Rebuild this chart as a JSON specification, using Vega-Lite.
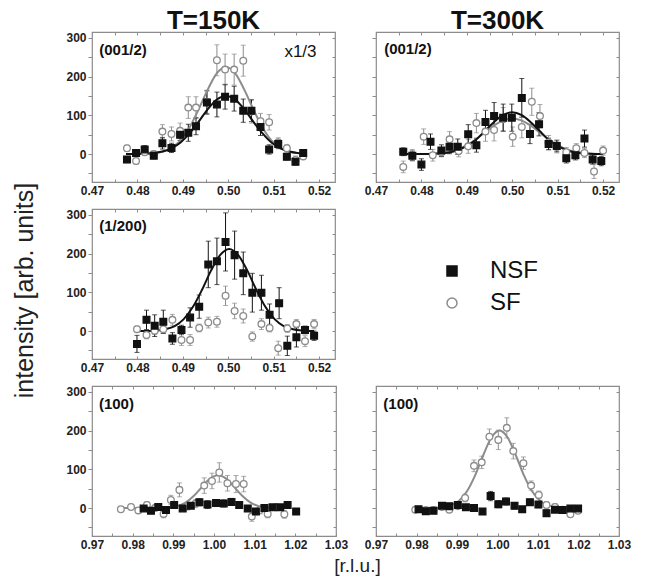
{
"$schema": "https://vega.github.io/schema/vega-lite/v6.json",
"padding": {"left": 12, "top": 6, "right": 5, "bottom": 3},
"background": "white",
"config": {
  "view": {"stroke": "#8c8c8c", "strokeWidth": 1.2},
  "axis": {"labelFont": "Liberation Sans", "labelFontWeight": "bold", "labelFontSize": 12, "labelColor": "#222", "tickColor": "#8c8c8c", "tickWidth": 1, "grid": false, "domain": false, "labelFlush": false, "labelOverlap": false, "titleFont": "Liberation Sans", "titleFontWeight": "normal", "titleColor": "#222"},
  "title": {"font": "Liberation Sans", "fontWeight": "bold", "fontSize": 26, "color": "#111", "anchor": "middle", "offset": -2}
},
"datasets": {
"pts": [
{"p":"TL","s":"SF","x":0.4777,"y":15,"e":8},{"p":"TL","s":"SF","x":0.4797,"y":-18,"e":8},{"p":"TL","s":"SF","x":0.4816,"y":5,"e":8},{"p":"TL","s":"SF","x":0.4836,"y":0,"e":8},{"p":"TL","s":"SF","x":0.4855,"y":58,"e":18},{"p":"TL","s":"SF","x":0.4875,"y":52,"e":18},{"p":"TL","s":"SF","x":0.4894,"y":60,"e":20},{"p":"TL","s":"SF","x":0.4912,"y":120,"e":28},{"p":"TL","s":"SF","x":0.4929,"y":120,"e":28},{"p":"TL","s":"SF","x":0.4953,"y":135,"e":30},{"p":"TL","s":"SF","x":0.4975,"y":242,"e":40},{"p":"TL","s":"SF","x":0.4993,"y":218,"e":40},{"p":"TL","s":"SF","x":0.5013,"y":218,"e":40},{"p":"TL","s":"SF","x":0.5033,"y":241,"e":40},{"p":"TL","s":"SF","x":0.5051,"y":110,"e":30},{"p":"TL","s":"SF","x":0.5071,"y":85,"e":20},{"p":"TL","s":"SF","x":0.509,"y":82,"e":20},{"p":"TL","s":"SF","x":0.511,"y":30,"e":12},{"p":"TL","s":"SF","x":0.5129,"y":15,"e":10},{"p":"TL","s":"SF","x":0.5148,"y":-15,"e":10},{"p":"TL","s":"SF","x":0.5165,"y":-6,"e":8},
{"p":"TL","s":"NSF","x":0.4777,"y":-14,"e":8},{"p":"TL","s":"NSF","x":0.4797,"y":3,"e":8},{"p":"TL","s":"NSF","x":0.4816,"y":12,"e":10},{"p":"TL","s":"NSF","x":0.4836,"y":-4,"e":8},{"p":"TL","s":"NSF","x":0.4855,"y":28,"e":15},{"p":"TL","s":"NSF","x":0.4875,"y":16,"e":12},{"p":"TL","s":"NSF","x":0.4894,"y":50,"e":15},{"p":"TL","s":"NSF","x":0.4912,"y":55,"e":22},{"p":"TL","s":"NSF","x":0.4929,"y":72,"e":22},{"p":"TL","s":"NSF","x":0.4953,"y":133,"e":30},{"p":"TL","s":"NSF","x":0.4975,"y":128,"e":32},{"p":"TL","s":"NSF","x":0.4993,"y":148,"e":32},{"p":"TL","s":"NSF","x":0.5013,"y":143,"e":32},{"p":"TL","s":"NSF","x":0.5033,"y":112,"e":30},{"p":"TL","s":"NSF","x":0.5051,"y":112,"e":28},{"p":"TL","s":"NSF","x":0.5071,"y":70,"e":22},{"p":"TL","s":"NSF","x":0.509,"y":12,"e":12},{"p":"TL","s":"NSF","x":0.511,"y":26,"e":12},{"p":"TL","s":"NSF","x":0.5129,"y":-7,"e":8},{"p":"TL","s":"NSF","x":0.5148,"y":-20,"e":8},{"p":"TL","s":"NSF","x":0.5165,"y":3,"e":8},
{"p":"TR","s":"SF","x":0.476,"y":-33,"e":15},{"p":"TR","s":"SF","x":0.478,"y":-3,"e":15},{"p":"TR","s":"SF","x":0.4805,"y":45,"e":20},{"p":"TR","s":"SF","x":0.4825,"y":-3,"e":15},{"p":"TR","s":"SF","x":0.4844,"y":5,"e":12},{"p":"TR","s":"SF","x":0.4862,"y":38,"e":20},{"p":"TR","s":"SF","x":0.4882,"y":8,"e":15},{"p":"TR","s":"SF","x":0.4903,"y":20,"e":18},{"p":"TR","s":"SF","x":0.4921,"y":80,"e":25},{"p":"TR","s":"SF","x":0.4941,"y":58,"e":25},{"p":"TR","s":"SF","x":0.496,"y":62,"e":28},{"p":"TR","s":"SF","x":0.498,"y":90,"e":30},{"p":"TR","s":"SF","x":0.5001,"y":45,"e":25},{"p":"TR","s":"SF","x":0.5021,"y":70,"e":28},{"p":"TR","s":"SF","x":0.5043,"y":135,"e":35},{"p":"TR","s":"SF","x":0.5061,"y":98,"e":30},{"p":"TR","s":"SF","x":0.508,"y":30,"e":18},{"p":"TR","s":"SF","x":0.5098,"y":18,"e":15},{"p":"TR","s":"SF","x":0.5119,"y":5,"e":12},{"p":"TR","s":"SF","x":0.5141,"y":15,"e":12},{"p":"TR","s":"SF","x":0.5159,"y":3,"e":12},{"p":"TR","s":"SF","x":0.518,"y":-45,"e":18},{"p":"TR","s":"SF","x":0.52,"y":9,"e":12},
{"p":"TR","s":"NSF","x":0.476,"y":6,"e":10},{"p":"TR","s":"NSF","x":0.478,"y":-4,"e":12},{"p":"TR","s":"NSF","x":0.48,"y":-27,"e":15},{"p":"TR","s":"NSF","x":0.482,"y":32,"e":20},{"p":"TR","s":"NSF","x":0.4844,"y":9,"e":15},{"p":"TR","s":"NSF","x":0.4862,"y":19,"e":18},{"p":"TR","s":"NSF","x":0.488,"y":19,"e":20},{"p":"TR","s":"NSF","x":0.4903,"y":51,"e":25},{"p":"TR","s":"NSF","x":0.4921,"y":23,"e":18},{"p":"TR","s":"NSF","x":0.4941,"y":83,"e":30},{"p":"TR","s":"NSF","x":0.496,"y":98,"e":35},{"p":"TR","s":"NSF","x":0.498,"y":94,"e":35},{"p":"TR","s":"NSF","x":0.4999,"y":94,"e":35},{"p":"TR","s":"NSF","x":0.5021,"y":145,"e":50},{"p":"TR","s":"NSF","x":0.5039,"y":52,"e":25},{"p":"TR","s":"NSF","x":0.5059,"y":77,"e":30},{"p":"TR","s":"NSF","x":0.508,"y":26,"e":15},{"p":"TR","s":"NSF","x":0.5098,"y":21,"e":15},{"p":"TR","s":"NSF","x":0.5119,"y":-11,"e":12},{"p":"TR","s":"NSF","x":0.5139,"y":-3,"e":12},{"p":"TR","s":"NSF","x":0.5159,"y":40,"e":22},{"p":"TR","s":"NSF","x":0.5177,"y":-14,"e":12},{"p":"TR","s":"NSF","x":0.5196,"y":-18,"e":12},
{"p":"ML","s":"SF","x":0.4799,"y":5,"e":8},{"p":"ML","s":"SF","x":0.482,"y":-10,"e":10},{"p":"ML","s":"SF","x":0.4838,"y":1,"e":10},{"p":"ML","s":"SF","x":0.4857,"y":5,"e":10},{"p":"ML","s":"SF","x":0.4877,"y":29,"e":14},{"p":"ML","s":"SF","x":0.4897,"y":-23,"e":14},{"p":"ML","s":"SF","x":0.4916,"y":-23,"e":14},{"p":"ML","s":"SF","x":0.4936,"y":8,"e":10},{"p":"ML","s":"SF","x":0.4956,"y":22,"e":14},{"p":"ML","s":"SF","x":0.4975,"y":24,"e":14},{"p":"ML","s":"SF","x":0.4994,"y":91,"e":25},{"p":"ML","s":"SF","x":0.5014,"y":52,"e":20},{"p":"ML","s":"SF","x":0.5033,"y":39,"e":18},{"p":"ML","s":"SF","x":0.5053,"y":-14,"e":12},{"p":"ML","s":"SF","x":0.5073,"y":18,"e":14},{"p":"ML","s":"SF","x":0.5091,"y":8,"e":10},{"p":"ML","s":"SF","x":0.511,"y":-44,"e":18},{"p":"ML","s":"SF","x":0.513,"y":7,"e":10},{"p":"ML","s":"SF","x":0.515,"y":18,"e":12},{"p":"ML","s":"SF","x":0.5169,"y":-26,"e":14},{"p":"ML","s":"SF","x":0.5189,"y":18,"e":12},
{"p":"ML","s":"NSF","x":0.4799,"y":-33,"e":22},{"p":"ML","s":"NSF","x":0.482,"y":29,"e":25},{"p":"ML","s":"NSF","x":0.4838,"y":14,"e":28},{"p":"ML","s":"NSF","x":0.4857,"y":24,"e":30},{"p":"ML","s":"NSF","x":0.4877,"y":-19,"e":15},{"p":"ML","s":"NSF","x":0.4897,"y":3,"e":12},{"p":"ML","s":"NSF","x":0.4916,"y":35,"e":25},{"p":"ML","s":"NSF","x":0.4936,"y":63,"e":30},{"p":"ML","s":"NSF","x":0.4956,"y":172,"e":60},{"p":"ML","s":"NSF","x":0.4975,"y":180,"e":60},{"p":"ML","s":"NSF","x":0.4994,"y":230,"e":75},{"p":"ML","s":"NSF","x":0.5014,"y":196,"e":62},{"p":"ML","s":"NSF","x":0.5033,"y":149,"e":55},{"p":"ML","s":"NSF","x":0.5053,"y":99,"e":50},{"p":"ML","s":"NSF","x":0.5073,"y":99,"e":45},{"p":"ML","s":"NSF","x":0.5091,"y":42,"e":28},{"p":"ML","s":"NSF","x":0.5112,"y":72,"e":40},{"p":"ML","s":"NSF","x":0.513,"y":-38,"e":25},{"p":"ML","s":"NSF","x":0.515,"y":-16,"e":25},{"p":"ML","s":"NSF","x":0.5169,"y":3,"e":10},{"p":"ML","s":"NSF","x":0.5189,"y":-12,"e":12},
{"p":"BL","s":"SF","x":0.9771,"y":-3,"e":6},{"p":"BL","s":"SF","x":0.9796,"y":3,"e":6},{"p":"BL","s":"SF","x":0.9814,"y":-6,"e":6},{"p":"BL","s":"SF","x":0.9835,"y":8,"e":8},{"p":"BL","s":"SF","x":0.9855,"y":0,"e":8},{"p":"BL","s":"SF","x":0.9876,"y":-15,"e":10},{"p":"BL","s":"SF","x":0.9894,"y":21,"e":12},{"p":"BL","s":"SF","x":0.9915,"y":47,"e":18},{"p":"BL","s":"SF","x":0.9935,"y":5,"e":10},{"p":"BL","s":"SF","x":0.9955,"y":12,"e":10},{"p":"BL","s":"SF","x":0.9976,"y":58,"e":20},{"p":"BL","s":"SF","x":0.9995,"y":70,"e":20},{"p":"BL","s":"SF","x":1.0013,"y":92,"e":25},{"p":"BL","s":"SF","x":1.0033,"y":64,"e":20},{"p":"BL","s":"SF","x":1.0054,"y":62,"e":22},{"p":"BL","s":"SF","x":1.0073,"y":62,"e":20},{"p":"BL","s":"SF","x":1.0093,"y":-22,"e":12},{"p":"BL","s":"SF","x":1.0113,"y":-5,"e":10},{"p":"BL","s":"SF","x":1.0132,"y":-15,"e":10},{"p":"BL","s":"SF","x":1.0153,"y":2,"e":8},{"p":"BL","s":"SF","x":1.0173,"y":-16,"e":10},
{"p":"BL","s":"NSF","x":0.9827,"y":-1,"e":6},{"p":"BL","s":"NSF","x":0.9845,"y":-7,"e":6},{"p":"BL","s":"NSF","x":0.9863,"y":3,"e":6},{"p":"BL","s":"NSF","x":0.9882,"y":-5,"e":6},{"p":"BL","s":"NSF","x":0.9902,"y":8,"e":7},{"p":"BL","s":"NSF","x":0.9923,"y":-1,"e":6},{"p":"BL","s":"NSF","x":0.9943,"y":6,"e":7},{"p":"BL","s":"NSF","x":0.9964,"y":15,"e":9},{"p":"BL","s":"NSF","x":0.9984,"y":9,"e":10},{"p":"BL","s":"NSF","x":1.0005,"y":13,"e":9},{"p":"BL","s":"NSF","x":1.0024,"y":12,"e":9},{"p":"BL","s":"NSF","x":1.0043,"y":16,"e":9},{"p":"BL","s":"NSF","x":1.0062,"y":8,"e":8},{"p":"BL","s":"NSF","x":1.0083,"y":-1,"e":7},{"p":"BL","s":"NSF","x":1.0103,"y":-9,"e":7},{"p":"BL","s":"NSF","x":1.0124,"y":0,"e":6},{"p":"BL","s":"NSF","x":1.0144,"y":2,"e":6},{"p":"BL","s":"NSF","x":1.0163,"y":2,"e":6},{"p":"BL","s":"NSF","x":1.0181,"y":8,"e":6},{"p":"BL","s":"NSF","x":1.0202,"y":-9,"e":6},
{"p":"BR","s":"SF","x":0.9797,"y":-4,"e":5},{"p":"BR","s":"SF","x":0.9823,"y":-5,"e":5},{"p":"BR","s":"SF","x":0.9842,"y":-5,"e":5},{"p":"BR","s":"SF","x":0.9863,"y":3,"e":6},{"p":"BR","s":"SF","x":0.9881,"y":-4,"e":6},{"p":"BR","s":"SF","x":0.9902,"y":5,"e":6},{"p":"BR","s":"SF","x":0.992,"y":26,"e":10},{"p":"BR","s":"SF","x":0.9942,"y":109,"e":15},{"p":"BR","s":"SF","x":0.9961,"y":118,"e":16},{"p":"BR","s":"SF","x":0.998,"y":184,"e":20},{"p":"BR","s":"SF","x":1.0002,"y":176,"e":25},{"p":"BR","s":"SF","x":1.0023,"y":207,"e":26},{"p":"BR","s":"SF","x":1.0039,"y":147,"e":20},{"p":"BR","s":"SF","x":1.0064,"y":116,"e":16},{"p":"BR","s":"SF","x":1.0083,"y":58,"e":12},{"p":"BR","s":"SF","x":1.0102,"y":34,"e":10},{"p":"BR","s":"SF","x":1.0121,"y":8,"e":8},{"p":"BR","s":"SF","x":1.0142,"y":3,"e":8},{"p":"BR","s":"SF","x":1.0161,"y":-4,"e":6},{"p":"BR","s":"SF","x":1.018,"y":-16,"e":6},{"p":"BR","s":"SF","x":1.0199,"y":-7,"e":6},
{"p":"BR","s":"NSF","x":0.9805,"y":-3,"e":6},{"p":"BR","s":"NSF","x":0.9823,"y":-8,"e":6},{"p":"BR","s":"NSF","x":0.9842,"y":-7,"e":6},{"p":"BR","s":"NSF","x":0.9863,"y":6,"e":6},{"p":"BR","s":"NSF","x":0.9881,"y":5,"e":6},{"p":"BR","s":"NSF","x":0.9902,"y":8,"e":7},{"p":"BR","s":"NSF","x":0.9922,"y":2,"e":6},{"p":"BR","s":"NSF","x":0.9942,"y":0,"e":6},{"p":"BR","s":"NSF","x":0.9963,"y":-9,"e":7},{"p":"BR","s":"NSF","x":0.9983,"y":31,"e":12},{"p":"BR","s":"NSF","x":1.0002,"y":10,"e":9},{"p":"BR","s":"NSF","x":1.0021,"y":17,"e":9},{"p":"BR","s":"NSF","x":1.0042,"y":6,"e":8},{"p":"BR","s":"NSF","x":1.0061,"y":-3,"e":7},{"p":"BR","s":"NSF","x":1.008,"y":15,"e":8},{"p":"BR","s":"NSF","x":1.0101,"y":9,"e":8},{"p":"BR","s":"NSF","x":1.0121,"y":-13,"e":8},{"p":"BR","s":"NSF","x":1.0142,"y":-4,"e":6},{"p":"BR","s":"NSF","x":1.0161,"y":-5,"e":6},{"p":"BR","s":"NSF","x":1.018,"y":-1,"e":6},{"p":"BR","s":"NSF","x":1.0199,"y":-1,"e":6}
],
"fit": [
{"p":"TL","s":"SF","x":0.4775,"y":0},{"p":"TL","s":"SF","x":0.4795,"y":0.2},{"p":"TL","s":"SF","x":0.4815,"y":0.6},{"p":"TL","s":"SF","x":0.4835,"y":2},{"p":"TL","s":"SF","x":0.4855,"y":6},{"p":"TL","s":"SF","x":0.4875,"y":16},{"p":"TL","s":"SF","x":0.4895,"y":35},{"p":"TL","s":"SF","x":0.4915,"y":69},{"p":"TL","s":"SF","x":0.4935,"y":116},{"p":"TL","s":"SF","x":0.4955,"y":167},{"p":"TL","s":"SF","x":0.4975,"y":209},{"p":"TL","s":"SF","x":0.4995,"y":225},{"p":"TL","s":"SF","x":0.5015,"y":209},{"p":"TL","s":"SF","x":0.5035,"y":167},{"p":"TL","s":"SF","x":0.5055,"y":116},{"p":"TL","s":"SF","x":0.5075,"y":69},{"p":"TL","s":"SF","x":0.5095,"y":35},{"p":"TL","s":"SF","x":0.5115,"y":16},{"p":"TL","s":"SF","x":0.5135,"y":6},{"p":"TL","s":"SF","x":0.5155,"y":2},{"p":"TL","s":"SF","x":0.517,"y":0.8},
{"p":"TL","s":"NSF","x":0.4775,"y":0},{"p":"TL","s":"NSF","x":0.4795,"y":0.5},{"p":"TL","s":"NSF","x":0.4815,"y":0.9},{"p":"TL","s":"NSF","x":0.4835,"y":2.5},{"p":"TL","s":"NSF","x":0.4855,"y":6.6},{"p":"TL","s":"NSF","x":0.4875,"y":15},{"p":"TL","s":"NSF","x":0.4895,"y":30},{"p":"TL","s":"NSF","x":0.4915,"y":54},{"p":"TL","s":"NSF","x":0.4935,"y":84},{"p":"TL","s":"NSF","x":0.4955,"y":116},{"p":"TL","s":"NSF","x":0.4975,"y":141},{"p":"TL","s":"NSF","x":0.4995,"y":150},{"p":"TL","s":"NSF","x":0.5015,"y":141},{"p":"TL","s":"NSF","x":0.5035,"y":116},{"p":"TL","s":"NSF","x":0.5055,"y":84},{"p":"TL","s":"NSF","x":0.5075,"y":54},{"p":"TL","s":"NSF","x":0.5095,"y":30},{"p":"TL","s":"NSF","x":0.5115,"y":15},{"p":"TL","s":"NSF","x":0.5135,"y":6.6},{"p":"TL","s":"NSF","x":0.5155,"y":2.5},{"p":"TL","s":"NSF","x":0.517,"y":1.2},
{"p":"TR","s":"SF","x":0.476,"y":0.1},{"p":"TR","s":"SF","x":0.48,"y":0.4},{"p":"TR","s":"SF","x":0.482,"y":1},{"p":"TR","s":"SF","x":0.484,"y":3},{"p":"TR","s":"SF","x":0.486,"y":6},{"p":"TR","s":"SF","x":0.488,"y":12},{"p":"TR","s":"SF","x":0.49,"y":23},{"p":"TR","s":"SF","x":0.492,"y":38},{"p":"TR","s":"SF","x":0.494,"y":56},{"p":"TR","s":"SF","x":0.496,"y":74},{"p":"TR","s":"SF","x":0.498,"y":87},{"p":"TR","s":"SF","x":0.5,"y":92},{"p":"TR","s":"SF","x":0.502,"y":87},{"p":"TR","s":"SF","x":0.504,"y":74},{"p":"TR","s":"SF","x":0.506,"y":56},{"p":"TR","s":"SF","x":0.508,"y":38},{"p":"TR","s":"SF","x":0.51,"y":23},{"p":"TR","s":"SF","x":0.512,"y":12},{"p":"TR","s":"SF","x":0.514,"y":6},{"p":"TR","s":"SF","x":0.516,"y":3},{"p":"TR","s":"SF","x":0.518,"y":1},{"p":"TR","s":"SF","x":0.52,"y":0.4},
{"p":"TR","s":"NSF","x":0.476,"y":0},{"p":"TR","s":"NSF","x":0.48,"y":0.2},{"p":"TR","s":"NSF","x":0.482,"y":0.5},{"p":"TR","s":"NSF","x":0.484,"y":1.6},{"p":"TR","s":"NSF","x":0.486,"y":4},{"p":"TR","s":"NSF","x":0.488,"y":10},{"p":"TR","s":"NSF","x":0.49,"y":21},{"p":"TR","s":"NSF","x":0.492,"y":37},{"p":"TR","s":"NSF","x":0.494,"y":60},{"p":"TR","s":"NSF","x":0.496,"y":83},{"p":"TR","s":"NSF","x":0.498,"y":101},{"p":"TR","s":"NSF","x":0.5,"y":108},{"p":"TR","s":"NSF","x":0.502,"y":101},{"p":"TR","s":"NSF","x":0.504,"y":83},{"p":"TR","s":"NSF","x":0.506,"y":60},{"p":"TR","s":"NSF","x":0.508,"y":37},{"p":"TR","s":"NSF","x":0.51,"y":21},{"p":"TR","s":"NSF","x":0.512,"y":10},{"p":"TR","s":"NSF","x":0.514,"y":4},{"p":"TR","s":"NSF","x":0.516,"y":1.6},{"p":"TR","s":"NSF","x":0.518,"y":0.5},{"p":"TR","s":"NSF","x":0.52,"y":0.2},
{"p":"ML","s":"NSF","x":0.4799,"y":0},{"p":"ML","s":"NSF","x":0.4822,"y":0.4},{"p":"ML","s":"NSF","x":0.4842,"y":1.5},{"p":"ML","s":"NSF","x":0.4862,"y":5},{"p":"ML","s":"NSF","x":0.4882,"y":13},{"p":"ML","s":"NSF","x":0.4902,"y":31},{"p":"ML","s":"NSF","x":0.4922,"y":62},{"p":"ML","s":"NSF","x":0.4942,"y":106},{"p":"ML","s":"NSF","x":0.4962,"y":156},{"p":"ML","s":"NSF","x":0.4982,"y":196},{"p":"ML","s":"NSF","x":0.5002,"y":212},{"p":"ML","s":"NSF","x":0.5022,"y":196},{"p":"ML","s":"NSF","x":0.5042,"y":156},{"p":"ML","s":"NSF","x":0.5062,"y":106},{"p":"ML","s":"NSF","x":0.5082,"y":62},{"p":"ML","s":"NSF","x":0.5102,"y":31},{"p":"ML","s":"NSF","x":0.5122,"y":13},{"p":"ML","s":"NSF","x":0.5142,"y":5},{"p":"ML","s":"NSF","x":0.5162,"y":1.5},{"p":"ML","s":"NSF","x":0.5189,"y":0},
{"p":"BL","s":"SF","x":0.977,"y":0},{"p":"BL","s":"SF","x":0.985,"y":0},{"p":"BL","s":"SF","x":0.987,"y":0.3},{"p":"BL","s":"SF","x":0.989,"y":1.4},{"p":"BL","s":"SF","x":0.991,"y":5},{"p":"BL","s":"SF","x":0.993,"y":14},{"p":"BL","s":"SF","x":0.995,"y":31},{"p":"BL","s":"SF","x":0.997,"y":54},{"p":"BL","s":"SF","x":0.999,"y":76},{"p":"BL","s":"SF","x":1.001,"y":85},{"p":"BL","s":"SF","x":1.003,"y":76},{"p":"BL","s":"SF","x":1.005,"y":54},{"p":"BL","s":"SF","x":1.007,"y":31},{"p":"BL","s":"SF","x":1.009,"y":14},{"p":"BL","s":"SF","x":1.011,"y":5},{"p":"BL","s":"SF","x":1.013,"y":1.4},{"p":"BL","s":"SF","x":1.015,"y":0.3},{"p":"BL","s":"SF","x":1.017,"y":0},
{"p":"BR","s":"SF","x":0.98,"y":0},{"p":"BR","s":"SF","x":0.9845,"y":0.5},{"p":"BR","s":"SF","x":0.9865,"y":2},{"p":"BR","s":"SF","x":0.9885,"y":7},{"p":"BR","s":"SF","x":0.9905,"y":19},{"p":"BR","s":"SF","x":0.9925,"y":44},{"p":"BR","s":"SF","x":0.9945,"y":85},{"p":"BR","s":"SF","x":0.9965,"y":137},{"p":"BR","s":"SF","x":0.9985,"y":182},{"p":"BR","s":"SF","x":1.0005,"y":200},{"p":"BR","s":"SF","x":1.0025,"y":182},{"p":"BR","s":"SF","x":1.0045,"y":137},{"p":"BR","s":"SF","x":1.0065,"y":85},{"p":"BR","s":"SF","x":1.0085,"y":44},{"p":"BR","s":"SF","x":1.0105,"y":19},{"p":"BR","s":"SF","x":1.0125,"y":7},{"p":"BR","s":"SF","x":1.0145,"y":2},{"p":"BR","s":"SF","x":1.0165,"y":0.5},{"p":"BR","s":"SF","x":1.02,"y":0}
],
"series": [{"s":"NSF"},{"s":"SF"}]
},
"columns": 2,
"spacing": {"row": 27, "column": 40},
"bounds": "flush",
"resolve": {"scale": {"color": "independent", "shape": "independent", "fill": "independent", "stroke": "independent"}, "legend": {"color": "independent", "shape": "independent", "fill": "independent", "stroke": "independent"}},
"concat": [
{
 "width": 243, "height": 150,
 "title": {"text": "T=150K"},
 "layer": [
  {"data": {"name": "pts"}, "transform": [{"filter": "datum.p == 'TL'"}],
   "mark": {"type": "errorbar", "ticks": {"size": 5}, "thickness": 1},
   "encoding": {
    "x": {"field": "x", "type": "quantitative", "scale": {"domain": [0.47, 0.5235], "nice": false, "zero": false}, "axis": {"title": null, "values": [0.47,0.475,0.48,0.485,0.49,0.495,0.5,0.505,0.51,0.515,0.52], "labelExpr": "round(datum.value*1000) % 10 == 0 ? format(datum.value, '.2f') : ''", "tickSize": -3, "labelPadding": 6}},
    "y": {"field": "y", "type": "quantitative", "scale": {"domain": [-72, 315], "nice": false, "zero": false}, "axis": {"title": null, "values": [-50,0,50,100,150,200,250,300], "labelExpr": "datum.value % 100 == 0 ? datum.label : ''", "tickSize": 4, "labelPadding": 2}},
    "yError": {"field": "e"},
    "color": {"field": "s", "type": "nominal", "scale": {"domain": ["NSF", "SF"], "range": ["#111111", "#8c8c8c"]}, "legend": null}
   }},
  {"data": {"name": "fit"}, "transform": [{"filter": "datum.p == 'TL'"}],
   "mark": {"type": "line", "strokeWidth": 2, "interpolate": "monotone"},
   "encoding": {
    "x": {"field": "x", "type": "quantitative", "axis": null},
    "y": {"field": "y", "type": "quantitative", "axis": null},
    "color": {"field": "s", "type": "nominal", "scale": {"domain": ["NSF", "SF"], "range": ["#111111", "#8c8c8c"]}, "legend": null}
   }},
  {"data": {"name": "pts"}, "transform": [{"filter": "datum.p == 'TL'"}],
   "mark": {"type": "point", "size": 45, "strokeWidth": 1.3, "opacity": 1},
   "encoding": {
    "x": {"field": "x", "type": "quantitative", "axis": null},
    "y": {"field": "y", "type": "quantitative", "axis": null},
    "shape": {"field": "s", "type": "nominal", "scale": {"domain": ["NSF", "SF"], "range": ["square", "circle"]}, "legend": null},
    "fill": {"field": "s", "type": "nominal", "scale": {"domain": ["NSF", "SF"], "range": ["#111111", "white"]}, "legend": null},
    "stroke": {"field": "s", "type": "nominal", "scale": {"domain": ["NSF", "SF"], "range": ["#111111", "#8c8c8c"]}, "legend": null}
   }},
  {"data": {"values": [{}]},
   "mark": {"type": "text", "align": "left", "baseline": "middle", "font": "Liberation Sans", "fontWeight": "bold", "fontSize": 15, "color": "#111"},
   "encoding": {
    "x": {"datum": 0.4716, "type": "quantitative", "axis": {"orient": "top", "labels": false, "title": null, "values": [0.47,0.475,0.48,0.485,0.49,0.495,0.5,0.505,0.51,0.515,0.52], "tickSize": -3}},
    "y": {"datum": 268, "type": "quantitative", "axis": {"orient": "right", "labels": false, "title": null, "values": [-50,0,50,100,150,200,250,300], "tickSize": -3}},
    "text": {"value": "(001/2)"}
   }},
  {"data": {"values": [{}]},
   "mark": {"type": "text", "align": "center", "baseline": "middle", "font": "Liberation Sans", "fontSize": 17, "color": "#111"},
   "encoding": {
    "x": {"datum": 0.5159, "type": "quantitative", "axis": null},
    "y": {"datum": 264, "type": "quantitative", "axis": null},
    "text": {"value": "x1/3"}
   }}
 ],
 "resolve": {"axis": {"x": "independent", "y": "independent"}}
},
{
 "width": 243, "height": 150,
 "title": {"text": "T=300K"},
 "layer": [
  {"data": {"name": "pts"}, "transform": [{"filter": "datum.p == 'TR'"}],
   "mark": {"type": "errorbar", "ticks": {"size": 5}, "thickness": 1},
   "encoding": {
    "x": {"field": "x", "type": "quantitative", "scale": {"domain": [0.47, 0.5235], "nice": false, "zero": false}, "axis": {"title": null, "values": [0.47,0.475,0.48,0.485,0.49,0.495,0.5,0.505,0.51,0.515,0.52], "labelExpr": "round(datum.value*1000) % 10 == 0 ? format(datum.value, '.2f') : ''", "tickSize": -3, "labelPadding": 6}},
    "y": {"field": "y", "type": "quantitative", "scale": {"domain": [-72, 315], "nice": false, "zero": false}, "axis": {"title": null, "values": [-50,0,50,100,150,200,250,300], "labels": false, "tickSize": 4}},
    "yError": {"field": "e"},
    "color": {"field": "s", "type": "nominal", "scale": {"domain": ["NSF", "SF"], "range": ["#111111", "#8c8c8c"]}, "legend": null}
   }},
  {"data": {"name": "fit"}, "transform": [{"filter": "datum.p == 'TR'"}],
   "mark": {"type": "line", "strokeWidth": 2, "interpolate": "monotone"},
   "encoding": {
    "x": {"field": "x", "type": "quantitative", "axis": null},
    "y": {"field": "y", "type": "quantitative", "axis": null},
    "color": {"field": "s", "type": "nominal", "scale": {"domain": ["NSF", "SF"], "range": ["#111111", "#8c8c8c"]}, "legend": null}
   }},
  {"data": {"name": "pts"}, "transform": [{"filter": "datum.p == 'TR'"}],
   "mark": {"type": "point", "size": 45, "strokeWidth": 1.3, "opacity": 1},
   "encoding": {
    "x": {"field": "x", "type": "quantitative", "axis": null},
    "y": {"field": "y", "type": "quantitative", "axis": null},
    "shape": {"field": "s", "type": "nominal", "scale": {"domain": ["NSF", "SF"], "range": ["square", "circle"]}, "legend": null},
    "fill": {"field": "s", "type": "nominal", "scale": {"domain": ["NSF", "SF"], "range": ["#111111", "white"]}, "legend": null},
    "stroke": {"field": "s", "type": "nominal", "scale": {"domain": ["NSF", "SF"], "range": ["#111111", "#8c8c8c"]}, "legend": null}
   }},
  {"data": {"values": [{}]},
   "mark": {"type": "text", "align": "left", "baseline": "middle", "font": "Liberation Sans", "fontWeight": "bold", "fontSize": 15, "color": "#111"},
   "encoding": {
    "x": {"datum": 0.4718, "type": "quantitative", "axis": {"orient": "top", "labels": false, "title": null, "values": [0.47,0.475,0.48,0.485,0.49,0.495,0.5,0.505,0.51,0.515,0.52], "tickSize": -3}},
    "y": {"datum": 270, "type": "quantitative", "axis": {"orient": "right", "labels": false, "title": null, "values": [-50,0,50,100,150,200,250,300], "tickSize": -3}},
    "text": {"value": "(001/2)"}
   }}
 ],
 "resolve": {"axis": {"x": "independent", "y": "independent"}}
},
{
 "width": 243, "height": 150,
 "layer": [
  {"data": {"name": "pts"}, "transform": [{"filter": "datum.p == 'ML'"}],
   "mark": {"type": "errorbar", "ticks": {"size": 5}, "thickness": 1},
   "encoding": {
    "x": {"field": "x", "type": "quantitative", "scale": {"domain": [0.47, 0.5235], "nice": false, "zero": false}, "axis": {"title": null, "values": [0.47,0.475,0.48,0.485,0.49,0.495,0.5,0.505,0.51,0.515,0.52], "labelExpr": "round(datum.value*1000) % 10 == 0 ? format(datum.value, '.2f') : ''", "tickSize": -3, "labelPadding": 6}},
    "y": {"field": "y", "type": "quantitative", "scale": {"domain": [-72, 315], "nice": false, "zero": false}, "axis": {"title": "intensity [arb. units]", "titleFontSize": 25, "titlePadding": 28, "titleY": 81, "values": [-50,0,50,100,150,200,250,300], "labelExpr": "datum.value % 100 == 0 ? datum.label : ''", "tickSize": 4, "labelPadding": 2}},
    "yError": {"field": "e"},
    "color": {"field": "s", "type": "nominal", "scale": {"domain": ["NSF", "SF"], "range": ["#111111", "#8c8c8c"]}, "legend": null}
   }},
  {"data": {"name": "fit"}, "transform": [{"filter": "datum.p == 'ML'"}],
   "mark": {"type": "line", "strokeWidth": 2, "interpolate": "monotone"},
   "encoding": {
    "x": {"field": "x", "type": "quantitative", "axis": null},
    "y": {"field": "y", "type": "quantitative", "axis": null},
    "color": {"field": "s", "type": "nominal", "scale": {"domain": ["NSF", "SF"], "range": ["#111111", "#8c8c8c"]}, "legend": null}
   }},
  {"data": {"name": "pts"}, "transform": [{"filter": "datum.p == 'ML'"}],
   "mark": {"type": "point", "size": 45, "strokeWidth": 1.3, "opacity": 1},
   "encoding": {
    "x": {"field": "x", "type": "quantitative", "axis": null},
    "y": {"field": "y", "type": "quantitative", "axis": null},
    "shape": {"field": "s", "type": "nominal", "scale": {"domain": ["NSF", "SF"], "range": ["square", "circle"]}, "legend": null},
    "fill": {"field": "s", "type": "nominal", "scale": {"domain": ["NSF", "SF"], "range": ["#111111", "white"]}, "legend": null},
    "stroke": {"field": "s", "type": "nominal", "scale": {"domain": ["NSF", "SF"], "range": ["#111111", "#8c8c8c"]}, "legend": null}
   }},
  {"data": {"values": [{}]},
   "mark": {"type": "text", "align": "left", "baseline": "middle", "font": "Liberation Sans", "fontWeight": "bold", "fontSize": 15, "color": "#111"},
   "encoding": {
    "x": {"datum": 0.4716, "type": "quantitative", "axis": {"orient": "top", "labels": false, "title": null, "values": [0.47,0.475,0.48,0.485,0.49,0.495,0.5,0.505,0.51,0.515,0.52], "tickSize": -3}},
    "y": {"datum": 270, "type": "quantitative", "axis": {"orient": "right", "labels": false, "title": null, "values": [-50,0,50,100,150,200,250,300], "tickSize": -3}},
    "text": {"value": "(1/200)"}
   }}
 ],
 "resolve": {"axis": {"x": "independent", "y": "independent"}}
},
{
 "width": 243, "height": 150,
 "view": {"stroke": null},
 "data": {"name": "series"},
 "mark": {"type": "point", "opacity": 0, "size": 100},
 "encoding": {
  "shape": {"field": "s", "type": "nominal", "scale": {"domain": ["NSF", "SF"], "range": ["square", "circle"]}, "legend": {"orient": "none", "legendX": 64, "legendY": 50, "title": null, "padding": 0, "labelFont": "Liberation Sans", "labelFontSize": 24, "labelColor": "#111", "symbolSize": 100, "symbolStrokeWidth": 1.5, "symbolOpacity": 1, "labelOffset": 26, "rowPadding": 8}},
  "fill": {"field": "s", "type": "nominal", "scale": {"domain": ["NSF", "SF"], "range": ["#111111", "white"]}, "legend": {"orient": "none", "legendX": 64, "legendY": 50, "title": null, "padding": 0, "labelFont": "Liberation Sans", "labelFontSize": 24, "labelColor": "#111", "symbolSize": 100, "symbolStrokeWidth": 1.5, "symbolOpacity": 1, "labelOffset": 26, "rowPadding": 8}},
  "stroke": {"field": "s", "type": "nominal", "scale": {"domain": ["NSF", "SF"], "range": ["#111111", "#8c8c8c"]}, "legend": {"orient": "none", "legendX": 64, "legendY": 50, "title": null, "padding": 0, "labelFont": "Liberation Sans", "labelFontSize": 24, "labelColor": "#111", "symbolSize": 100, "symbolStrokeWidth": 1.5, "symbolOpacity": 1, "labelOffset": 26, "rowPadding": 8}}
 }
},
{
 "width": 244, "height": 150,
 "layer": [
  {"data": {"name": "pts"}, "transform": [{"filter": "datum.p == 'BL'"}],
   "mark": {"type": "errorbar", "ticks": {"size": 5}, "thickness": 1},
   "encoding": {
    "x": {"field": "x", "type": "quantitative", "scale": {"domain": [0.97, 1.03], "nice": false, "zero": false}, "axis": {"title": "[r.l.u.]", "titleFontSize": 19, "titleX": 265, "titleY": 29, "titleAlign": "center", "titleBaseline": "middle", "values": [0.97,0.975,0.98,0.985,0.99,0.995,1,1.005,1.01,1.015,1.02,1.025,1.03], "labelExpr": "round(datum.value*1000) % 10 == 0 ? format(datum.value, '.2f') : ''", "tickSize": -3, "labelPadding": 6}},
    "y": {"field": "y", "type": "quantitative", "scale": {"domain": [-72, 315], "nice": false, "zero": false}, "axis": {"title": null, "values": [-50,0,50,100,150,200,250,300], "labelExpr": "datum.value % 100 == 0 ? datum.label : ''", "tickSize": 4, "labelPadding": 2}},
    "yError": {"field": "e"},
    "color": {"field": "s", "type": "nominal", "scale": {"domain": ["NSF", "SF"], "range": ["#111111", "#8c8c8c"]}, "legend": null}
   }},
  {"data": {"name": "fit"}, "transform": [{"filter": "datum.p == 'BL'"}],
   "mark": {"type": "line", "strokeWidth": 2, "interpolate": "monotone"},
   "encoding": {
    "x": {"field": "x", "type": "quantitative", "axis": null},
    "y": {"field": "y", "type": "quantitative", "axis": null},
    "color": {"field": "s", "type": "nominal", "scale": {"domain": ["NSF", "SF"], "range": ["#111111", "#8c8c8c"]}, "legend": null}
   }},
  {"data": {"name": "pts"}, "transform": [{"filter": "datum.p == 'BL'"}],
   "mark": {"type": "point", "size": 45, "strokeWidth": 1.3, "opacity": 1},
   "encoding": {
    "x": {"field": "x", "type": "quantitative", "axis": null},
    "y": {"field": "y", "type": "quantitative", "axis": null},
    "shape": {"field": "s", "type": "nominal", "scale": {"domain": ["NSF", "SF"], "range": ["square", "circle"]}, "legend": null},
    "fill": {"field": "s", "type": "nominal", "scale": {"domain": ["NSF", "SF"], "range": ["#111111", "white"]}, "legend": null},
    "stroke": {"field": "s", "type": "nominal", "scale": {"domain": ["NSF", "SF"], "range": ["#111111", "#8c8c8c"]}, "legend": null}
   }},
  {"data": {"values": [{}]},
   "mark": {"type": "text", "align": "left", "baseline": "middle", "font": "Liberation Sans", "fontWeight": "bold", "fontSize": 15, "color": "#111"},
   "encoding": {
    "x": {"datum": 0.9717, "type": "quantitative", "axis": {"orient": "top", "labels": false, "title": null, "values": [0.97,0.975,0.98,0.985,0.99,0.995,1,1.005,1.01,1.015,1.02,1.025,1.03], "tickSize": -3}},
    "y": {"datum": 269, "type": "quantitative", "axis": {"orient": "right", "labels": false, "title": null, "values": [-50,0,50,100,150,200,250,300], "tickSize": -3}},
    "text": {"value": "(100)"}
   }}
 ],
 "resolve": {"axis": {"x": "independent", "y": "independent"}}
},
{
 "width": 243, "height": 150,
 "layer": [
  {"data": {"name": "pts"}, "transform": [{"filter": "datum.p == 'BR'"}],
   "mark": {"type": "errorbar", "ticks": {"size": 5}, "thickness": 1},
   "encoding": {
    "x": {"field": "x", "type": "quantitative", "scale": {"domain": [0.97, 1.03], "nice": false, "zero": false}, "axis": {"title": null, "values": [0.97,0.975,0.98,0.985,0.99,0.995,1,1.005,1.01,1.015,1.02,1.025,1.03], "labelExpr": "round(datum.value*1000) % 10 == 0 ? format(datum.value, '.2f') : ''", "tickSize": -3, "labelPadding": 6}},
    "y": {"field": "y", "type": "quantitative", "scale": {"domain": [-72, 315], "nice": false, "zero": false}, "axis": {"title": null, "values": [-50,0,50,100,150,200,250,300], "labels": false, "tickSize": 4}},
    "yError": {"field": "e"},
    "color": {"field": "s", "type": "nominal", "scale": {"domain": ["NSF", "SF"], "range": ["#111111", "#8c8c8c"]}, "legend": null}
   }},
  {"data": {"name": "fit"}, "transform": [{"filter": "datum.p == 'BR'"}],
   "mark": {"type": "line", "strokeWidth": 2, "interpolate": "monotone"},
   "encoding": {
    "x": {"field": "x", "type": "quantitative", "axis": null},
    "y": {"field": "y", "type": "quantitative", "axis": null},
    "color": {"field": "s", "type": "nominal", "scale": {"domain": ["NSF", "SF"], "range": ["#111111", "#8c8c8c"]}, "legend": null}
   }},
  {"data": {"name": "pts"}, "transform": [{"filter": "datum.p == 'BR'"}],
   "mark": {"type": "point", "size": 45, "strokeWidth": 1.3, "opacity": 1},
   "encoding": {
    "x": {"field": "x", "type": "quantitative", "axis": null},
    "y": {"field": "y", "type": "quantitative", "axis": null},
    "shape": {"field": "s", "type": "nominal", "scale": {"domain": ["NSF", "SF"], "range": ["square", "circle"]}, "legend": null},
    "fill": {"field": "s", "type": "nominal", "scale": {"domain": ["NSF", "SF"], "range": ["#111111", "white"]}, "legend": null},
    "stroke": {"field": "s", "type": "nominal", "scale": {"domain": ["NSF", "SF"], "range": ["#111111", "#8c8c8c"]}, "legend": null}
   }},
  {"data": {"values": [{}]},
   "mark": {"type": "text", "align": "left", "baseline": "middle", "font": "Liberation Sans", "fontWeight": "bold", "fontSize": 15, "color": "#111"},
   "encoding": {
    "x": {"datum": 0.9718, "type": "quantitative", "axis": {"orient": "top", "labels": false, "title": null, "values": [0.97,0.975,0.98,0.985,0.99,0.995,1,1.005,1.01,1.015,1.02,1.025,1.03], "tickSize": -3}},
    "y": {"datum": 268, "type": "quantitative", "axis": {"orient": "right", "labels": false, "title": null, "values": [-50,0,50,100,150,200,250,300], "tickSize": -3}},
    "text": {"value": "(100)"}
   }}
 ],
 "resolve": {"axis": {"x": "independent", "y": "independent"}}
}
]
}
